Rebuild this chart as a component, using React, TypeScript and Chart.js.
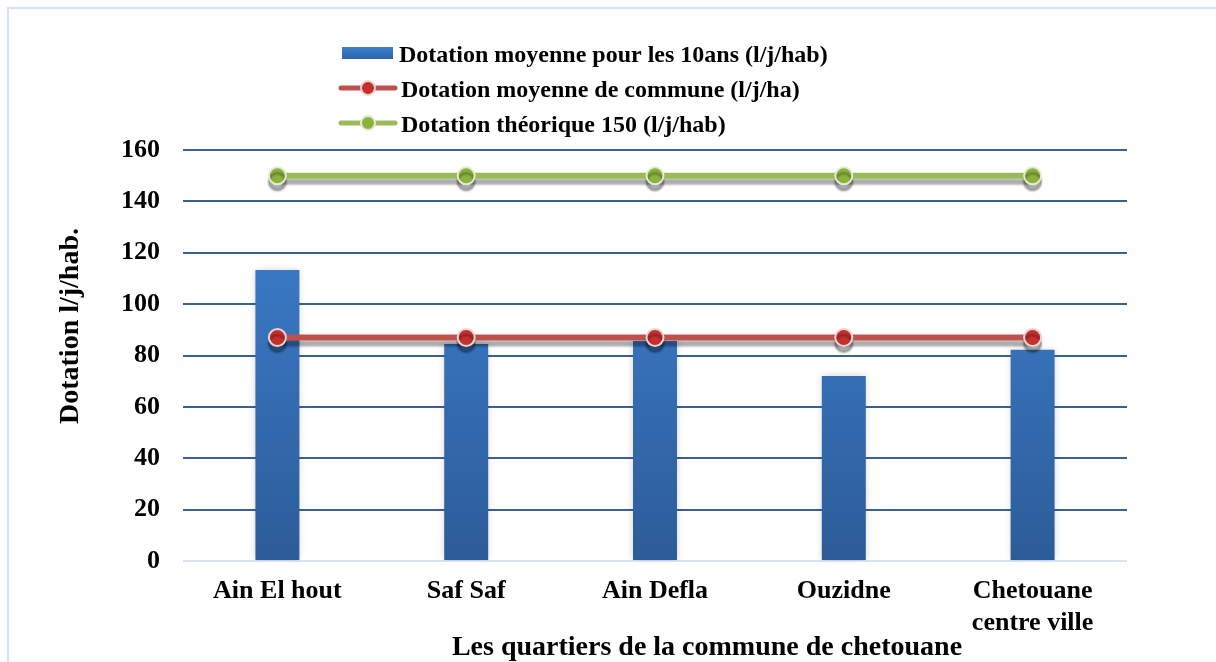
import React, { useEffect, useRef } from "react";
import { Chart, registerables } from "chart.js";

Chart.register(...registerables);

const categories: (string | string[])[] = [
  "Ain El hout",
  "Saf Saf",
  "Ain Defla",
  "Ouzidne",
  ["Chetouane", "centre ville"],
];
const dotation10ans = [113.3, 84.5, 85.6, 72, 82.2];
const dotationCommune = [87, 87, 87, 87, 87];
const dotationTheorique = [150, 150, 150, 150, 150];
const yTicks = [0, 20, 40, 60, 80, 100, 120, 140, 160];

const seriesNames = [
  "Dotation moyenne pour les 10ans (l/j/hab)",
  "Dotation moyenne de commune (l/j/ha)",
  "Dotation théorique 150 (l/j/hab)",
];
const yTitle = "Dotation l/j/hab.";
const xTitle = "Les quartiers de la commune de chetouane";

const FONT = "'Liberation Serif', 'Times New Roman', serif";
const RED = "#C0504D";
const RED_DOT = "#C3302E";
const GREEN = "#9BBB59";
const GREEN_DOT = "#8AB23C";
const GRID = "#3B6094";

const framePlugin = {
  id: "frame",
  beforeDraw(chart: any) {
    const ctx = chart.ctx;
    ctx.save();
    ctx.fillStyle = "#ffffff";
    ctx.fillRect(0, 0, chart.width, chart.height);
    ctx.strokeStyle = "#D4E2F4";
    ctx.lineWidth = 2;
    ctx.strokeRect(8, 8, 1400, 900);
    ctx.restore();
  },
};

const shadowPlugin = {
  id: "shadows",
  beforeDatasetDraw(chart: any, args: any) {
    const ctx = chart.ctx;
    ctx.save();
    if (args.meta.type === "line") {
      ctx.shadowColor = "rgba(0,0,0,0.32)";
      ctx.shadowOffsetX = 0;
      ctx.shadowOffsetY = 6;
      ctx.shadowBlur = 2;
    } else {
      ctx.shadowColor = "rgba(0,0,0,0.18)";
      ctx.shadowOffsetX = 0;
      ctx.shadowOffsetY = 0;
      ctx.shadowBlur = 7;
    }
  },
  afterDatasetDraw(chart: any) {
    chart.ctx.restore();
  },
};

const textPlugin = {
  id: "texts",
  afterDraw(chart: any) {
    const ctx = chart.ctx;
    ctx.save();
    ctx.fillStyle = "#000";
    ctx.font = `bold 28px ${FONT}`;
    ctx.textAlign = "center";
    ctx.textBaseline = "middle";
    ctx.fillText(xTitle, 707, 648);
    ctx.translate(71, 326);
    ctx.rotate(-Math.PI / 2);
    ctx.fillText(yTitle, 0, 0);
    ctx.restore();

    // Legend
    ctx.save();
    ctx.font = `bold 24px ${FONT}`;
    ctx.textAlign = "left";
    ctx.textBaseline = "alphabetic";
    ctx.fillStyle = "#000";
    const rows = [53, 88, 123];
    const g = ctx.createLinearGradient(0, 47, 0, 59);
    g.addColorStop(0, "#3C80D0");
    g.addColorStop(1, "#2F64A8");
    ctx.fillStyle = g;
    ctx.fillRect(342, rows[0] - 6, 51, 12);
    ctx.fillStyle = "#000";
    ctx.fillText(seriesNames[0], 399, rows[0] + 8.5);
    const lineItems = [
      { y: rows[1], c: RED, d: RED_DOT, b: "#EAD3D2" },
      { y: rows[2], c: GREEN, d: GREEN_DOT, b: "#E3EDD3" },
    ];
    lineItems.forEach((it, i) => {
      ctx.strokeStyle = it.c;
      ctx.lineWidth = 5;
      ctx.lineCap = "round";
      ctx.beginPath();
      ctx.moveTo(341, it.y);
      ctx.lineTo(395, it.y);
      ctx.stroke();
      ctx.beginPath();
      ctx.arc(368, it.y, 7, 0, Math.PI * 2);
      ctx.fillStyle = it.d;
      ctx.fill();
      ctx.lineWidth = 2;
      ctx.strokeStyle = it.b;
      ctx.stroke();
      ctx.fillStyle = "#000";
      ctx.fillText(seriesNames[i + 1], 401, it.y + 8.5);
    });
    ctx.restore();
  },
};

export default function App() {
  const ref = useRef<HTMLCanvasElement>(null);
  useEffect(() => {
    if (!ref.current) return;
    const barGradient = (ctx: any) => {
      const chart = ctx.chart;
      const area = chart.chartArea;
      if (!area) return "#3A7BC8";
      const g = chart.ctx.createLinearGradient(0, area.top, 0, area.bottom);
      g.addColorStop(0, "#3D82D2");
      g.addColorStop(0.5, "#3670B8");
      g.addColorStop(1, "#2C5C98");
      return g;
    };
    const chart = new Chart(ref.current, {
      type: "bar",
      data: {
        labels: categories,
        datasets: [
          {
            type: "bar",
            label: seriesNames[0],
            data: dotation10ans,
            backgroundColor: barGradient,
            borderWidth: 0,
            barPercentage: 0.233,
            categoryPercentage: 1,
            order: 3,
          },
          {
            type: "line",
            label: seriesNames[1],
            data: dotationCommune,
            borderColor: RED,
            borderWidth: 6,
            backgroundColor: RED_DOT,
            pointBackgroundColor: RED_DOT,
            pointBorderColor: "#EAD3D2",
            pointBorderWidth: 2,
            pointRadius: 8.5,
            fill: false,
            order: 2,
          },
          {
            type: "line",
            label: seriesNames[2],
            data: dotationTheorique,
            borderColor: GREEN,
            borderWidth: 6,
            backgroundColor: GREEN_DOT,
            pointBackgroundColor: GREEN_DOT,
            pointBorderColor: "#E3EDD3",
            pointBorderWidth: 2,
            pointRadius: 8.5,
            fill: false,
            order: 1,
          },
        ] as any,
      },
      options: {
        responsive: false,
        animation: false,
        devicePixelRatio: 1,
        layout: { padding: { left: 0, top: 150, right: 89, bottom: 0 } },
        plugins: {
          legend: { display: false },
          tooltip: { enabled: false },
        },
        scales: {
          x: {
            grid: { display: false, drawTicks: false },
            border: { display: false },
            ticks: {
              color: "#000",
              padding: 14,
              font: { family: FONT, size: 26, weight: "bold", lineHeight: 1.25 },
              maxRotation: 0,
              autoSkip: false,
            },
            afterFit: (s: any) => {
              s.height = 101;
            },
          },
          y: {
            min: 0,
            max: 160,
            afterBuildTicks: (s: any) => {
              s.ticks = yTicks.map((v) => ({ value: v }));
            },
            grid: {
              drawTicks: false,
              lineWidth: 2,
              color: (c: any) => (c.tick && c.tick.value === 0 ? "#D6E3F3" : GRID),
            },
            border: { display: false },
            ticks: {
              color: "#000",
              padding: 23,
              font: { family: FONT, size: 26, weight: "bold" },
            },
            afterFit: (s: any) => {
              s.width = 183;
            },
          },
        },
      } as any,
      plugins: [framePlugin, shadowPlugin, textPlugin],
    });
    return () => chart.destroy();
  }, []);
  return (
    <div style={{ position: "fixed", left: 0, top: 0, width: 1216, height: 662, background: "#fff" }}>
      <canvas ref={ref} width={1216} height={662} style={{ display: "block" }} />
    </div>
  );
}
